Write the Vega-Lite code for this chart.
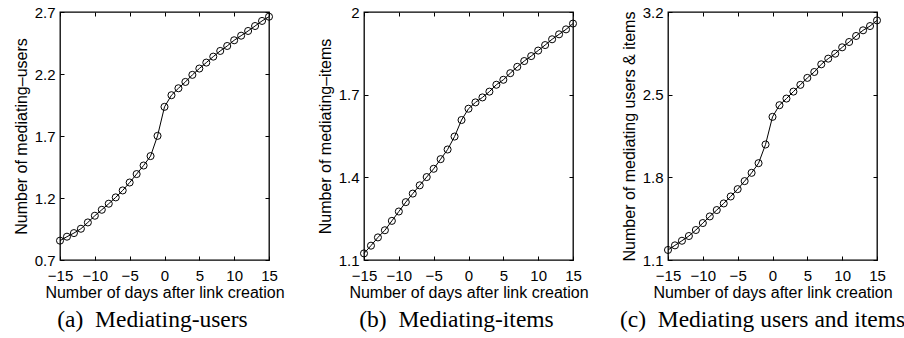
{
  "$schema": "https://vega.github.io/schema/vega-lite/v6.json",
  "padding": {"left": 12, "top": 4, "right": 0, "bottom": 0},
  "background": "white",
  "datasets": {
    "users": [
      {"day": -15, "value": 0.856}, {"day": -14, "value": 0.888}, {"day": -13, "value": 0.917}, {"day": -12, "value": 0.952},
      {"day": -11, "value": 1.003}, {"day": -10, "value": 1.057}, {"day": -9, "value": 1.105}, {"day": -8, "value": 1.154},
      {"day": -7, "value": 1.205}, {"day": -6, "value": 1.261}, {"day": -5, "value": 1.325}, {"day": -4, "value": 1.393},
      {"day": -3, "value": 1.462}, {"day": -2, "value": 1.538}, {"day": -1, "value": 1.701}, {"day": 0, "value": 1.935},
      {"day": 1, "value": 2.029}, {"day": 2, "value": 2.085}, {"day": 3, "value": 2.136}, {"day": 4, "value": 2.193},
      {"day": 5, "value": 2.244}, {"day": 6, "value": 2.292}, {"day": 7, "value": 2.340}, {"day": 8, "value": 2.386},
      {"day": 9, "value": 2.426}, {"day": 10, "value": 2.472}, {"day": 11, "value": 2.509}, {"day": 12, "value": 2.547},
      {"day": 13, "value": 2.587}, {"day": 14, "value": 2.628}, {"day": 15, "value": 2.662}
    ],
    "items": [
      {"day": -15, "value": 1.124}, {"day": -14, "value": 1.152}, {"day": -13, "value": 1.182}, {"day": -12, "value": 1.208},
      {"day": -11, "value": 1.242}, {"day": -10, "value": 1.276}, {"day": -9, "value": 1.310}, {"day": -8, "value": 1.341},
      {"day": -7, "value": 1.371}, {"day": -6, "value": 1.401}, {"day": -5, "value": 1.431}, {"day": -4, "value": 1.466},
      {"day": -3, "value": 1.501}, {"day": -2, "value": 1.548}, {"day": -1, "value": 1.608}, {"day": 0, "value": 1.649},
      {"day": 1, "value": 1.672}, {"day": 2, "value": 1.690}, {"day": 3, "value": 1.711}, {"day": 4, "value": 1.736},
      {"day": 5, "value": 1.754}, {"day": 6, "value": 1.778}, {"day": 7, "value": 1.801}, {"day": 8, "value": 1.822},
      {"day": 9, "value": 1.840}, {"day": 10, "value": 1.860}, {"day": 11, "value": 1.880}, {"day": 12, "value": 1.901},
      {"day": 13, "value": 1.919}, {"day": 14, "value": 1.937}, {"day": 15, "value": 1.958}
    ],
    "both": [
      {"day": -15, "value": 1.185}, {"day": -14, "value": 1.224}, {"day": -13, "value": 1.263}, {"day": -12, "value": 1.303},
      {"day": -11, "value": 1.354}, {"day": -10, "value": 1.413}, {"day": -9, "value": 1.469}, {"day": -8, "value": 1.523},
      {"day": -7, "value": 1.579}, {"day": -6, "value": 1.638}, {"day": -5, "value": 1.700}, {"day": -4, "value": 1.768},
      {"day": -3, "value": 1.838}, {"day": -2, "value": 1.920}, {"day": -1, "value": 2.078}, {"day": 0, "value": 2.312},
      {"day": 1, "value": 2.411}, {"day": 2, "value": 2.467}, {"day": 3, "value": 2.526}, {"day": 4, "value": 2.583},
      {"day": 5, "value": 2.642}, {"day": 6, "value": 2.692}, {"day": 7, "value": 2.757}, {"day": 8, "value": 2.805},
      {"day": 9, "value": 2.847}, {"day": 10, "value": 2.901}, {"day": 11, "value": 2.946}, {"day": 12, "value": 2.997},
      {"day": 13, "value": 3.045}, {"day": 14, "value": 3.081}, {"day": 15, "value": 3.129}
    ]
  },
  "config": {
    "font": "Liberation Sans",
    "view": {"stroke": "black", "strokeWidth": 1.3},
    "axis": {
      "domain": false, "grid": false, "ticks": true, "tickSize": -4, "tickColor": "black", "tickWidth": 1,
      "labelColor": "black", "labelFontSize": 15, "labelFont": "Liberation Sans",
      "titleColor": "black", "titleFontSize": 16, "titleFontWeight": "normal", "titleFont": "Liberation Sans"
    },
    "axisX": {"labelPadding": 12, "titlePadding": 1, "labelFlush": false},
    "axisY": {"labelPadding": 9, "titlePadding": 5},
    "title": {"font": "Liberation Serif", "fontSize": 23.5, "fontWeight": "normal", "color": "black", "orient": "bottom", "anchor": "middle"}
  },
  "spacing": 95,
  "bounds": "flush",
  "hconcat": [
    {
      "width": 209, "height": 248,
      "title": {"text": "(a)\u00a0 Mediating-users", "orient": "bottom", "dx": -12, "offset": 8},
      "data": {"name": "users"},
      "layer": [
        {
          "mark": {"type": "line", "color": "black", "strokeWidth": 1},
          "encoding": {
            "x": {"field": "day", "type": "quantitative", "scale": {"domain": [-15, 15], "nice": false}, "axis": {"orient": "bottom", "values": [-15, -10, -5, 0, 5, 10, 15], "title": "Number of days after link creation"}},
            "y": {"field": "value", "type": "quantitative", "scale": {"domain": [0.7, 2.7], "nice": false, "zero": false}, "axis": {"orient": "left", "values": [0.7, 1.2, 1.7, 2.2, 2.7], "format": "~g", "title": "Number of mediating–users"}}
          }
        },
        {
          "mark": {"type": "point", "shape": "circle", "filled": false, "color": "black", "size": 50, "strokeWidth": 1, "opacity": 1},
          "encoding": {
            "x": {"field": "day", "type": "quantitative", "axis": {"orient": "top", "values": [-15, -10, -5, 0, 5, 10, 15], "labels": false, "title": null}},
            "y": {"field": "value", "type": "quantitative", "axis": {"orient": "right", "values": [0.7, 1.2, 1.7, 2.2, 2.7], "labels": false, "title": null}}
          }
        }
      ],
      "resolve": {"axis": {"x": "independent", "y": "independent"}}
    },
    {
      "width": 209, "height": 248,
      "title": {"text": "(b)\u00a0 Mediating-items", "orient": "bottom", "dx": -12, "offset": 8},
      "data": {"name": "items"},
      "layer": [
        {
          "mark": {"type": "line", "color": "black", "strokeWidth": 1},
          "encoding": {
            "x": {"field": "day", "type": "quantitative", "scale": {"domain": [-15, 15], "nice": false}, "axis": {"orient": "bottom", "values": [-15, -10, -5, 0, 5, 10, 15], "title": "Number of days after link creation"}},
            "y": {"field": "value", "type": "quantitative", "scale": {"domain": [1.1, 2.0], "nice": false, "zero": false}, "axis": {"orient": "left", "values": [1.1, 1.4, 1.7, 2.0], "format": "~g", "title": "Number of mediating–items"}}
          }
        },
        {
          "mark": {"type": "point", "shape": "circle", "filled": false, "color": "black", "size": 50, "strokeWidth": 1, "opacity": 1},
          "encoding": {
            "x": {"field": "day", "type": "quantitative", "axis": {"orient": "top", "values": [-15, -10, -5, 0, 5, 10, 15], "labels": false, "title": null}},
            "y": {"field": "value", "type": "quantitative", "axis": {"orient": "right", "values": [1.1, 1.4, 1.7, 2.0], "labels": false, "title": null}}
          }
        }
      ],
      "resolve": {"axis": {"x": "independent", "y": "independent"}}
    },
    {
      "width": 209, "height": 248,
      "title": {"text": "(c)\u00a0 Mediating users and items", "orient": "bottom", "dx": -10, "offset": 8},
      "data": {"name": "both"},
      "layer": [
        {
          "mark": {"type": "line", "color": "black", "strokeWidth": 1},
          "encoding": {
            "x": {"field": "day", "type": "quantitative", "scale": {"domain": [-15, 15], "nice": false}, "axis": {"orient": "bottom", "values": [-15, -10, -5, 0, 5, 10, 15], "title": "Number of days after link creation"}},
            "y": {"field": "value", "type": "quantitative", "scale": {"domain": [1.1, 3.2], "nice": false, "zero": false}, "axis": {"orient": "left", "values": [1.1, 1.8, 2.5, 3.2], "format": "~g", "title": "Number of mediating users & items"}}
          }
        },
        {
          "mark": {"type": "point", "shape": "circle", "filled": false, "color": "black", "size": 50, "strokeWidth": 1, "opacity": 1},
          "encoding": {
            "x": {"field": "day", "type": "quantitative", "axis": {"orient": "top", "values": [-15, -10, -5, 0, 5, 10, 15], "labels": false, "title": null}},
            "y": {"field": "value", "type": "quantitative", "axis": {"orient": "right", "values": [1.1, 1.8, 2.5, 3.2], "labels": false, "title": null}}
          }
        }
      ],
      "resolve": {"axis": {"x": "independent", "y": "independent"}}
    }
  ]
}
